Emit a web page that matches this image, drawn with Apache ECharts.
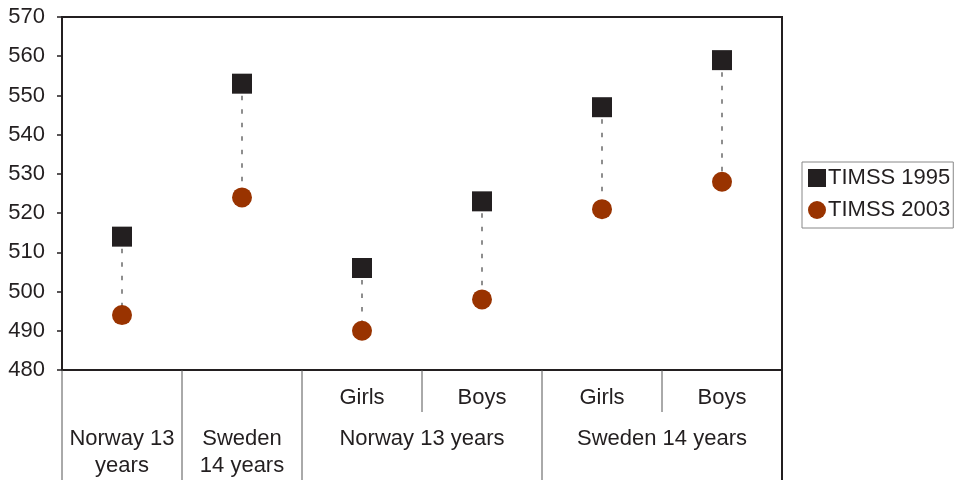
<!DOCTYPE html>
<html>
<head>
<meta charset="utf-8">
<script src="https://cdn.jsdelivr.net/npm/echarts@6/dist/echarts.min.js"></script>
<style>
  html, body { margin: 0; padding: 0; background: #fff; }
  #chart { width: 967px; height: 480px; }
</style>
</head>
<body>
<div id="chart"></div>
<script>
// Mean scores, TIMSS 1995 vs 2003
const subLabels = ['', '', 'Girls', 'Boys', 'Girls', 'Boys'];
const groupLabels = ['Norway 13\nyears', 'Sweden\n14 years', 'Norway 13 years', 'Sweden 14 years'];
// each group spans [first category, last category]
const groupSpans = [[0, 0], [1, 1], [2, 3], [4, 5]];
const timss1995 = [514, 553, 506, 523, 547, 559];
const timss2003 = [494, 524, 490, 498, 521, 528];
const seriesNames = ['TIMSS 1995', 'TIMSS 2003'];

const ink = '#231f20';
const rust = '#993300';
const FONT = '"Liberation Sans", Arial, sans-serif';
const FS = 22;

const chart = echarts.init(document.getElementById('chart'), null, { renderer: 'canvas' });

chart.setOption({
  animation: false,
  backgroundColor: '#fff',
  textStyle: { fontFamily: FONT },
  grid: {
    left: 62, right: 185, top: 17, bottom: 110,
    show: true, borderColor: ink, borderWidth: 2, backgroundColor: 'transparent'
  },
  legend: {
    orient: 'vertical',
    left: 802, top: 162,
    padding: [5, 3, 7, 6],
    itemGap: 10,
    itemWidth: 18, itemHeight: 18,
    borderColor: '#888', borderWidth: 1,
    textStyle: { fontSize: FS, color: ink, fontFamily: FONT, padding: [0, 0, 0, -3] },
    data: [
      { name: seriesNames[0], icon: 'rect' },
      { name: seriesNames[1], icon: 'circle' }
    ]
  },
  xAxis: {
    type: 'category',
    data: subLabels,
    boundaryGap: true,
    axisLine: { show: true, lineStyle: { color: ink, width: 2 } },
    axisTick: { show: false },
    axisLabel: { fontSize: FS, color: ink, margin: 17, fontFamily: FONT, interval: 0 },
    splitLine: { show: false }
  },
  yAxis: {
    type: 'value',
    min: 480, max: 570, interval: 10,
    axisLine: { show: true, lineStyle: { color: ink, width: 2 } },
    axisTick: { show: true, length: 5, lineStyle: { color: ink, width: 1.5 } },
    axisLabel: { fontSize: FS, color: ink, margin: 17, fontFamily: FONT },
    splitLine: { show: false }
  },
  series: [
    {
      // dashed connector between the two survey years
      type: 'custom',
      name: 'connector',
      z: 1,
      silent: true,
      data: timss1995.map((v, i) => [i, v, timss2003[i]]),
      encode: { x: 0, y: [1, 2] },
      renderItem: function (params, api) {
        const a = api.coord([api.value(0), api.value(1)]);
        const b = api.coord([api.value(0), api.value(2)]);
        return {
          type: 'line',
          shape: { x1: a[0], y1: a[1] + 12, x2: b[0], y2: b[1] },
          style: { stroke: '#444', lineWidth: 1.2, lineDash: [4.5, 9] }
        };
      }
    },
    {
      type: 'scatter',
      name: seriesNames[0],
      z: 3,
      symbol: 'rect',
      symbolSize: 20,
      itemStyle: { color: ink, opacity: 1 },
      data: timss1995
    },
    {
      type: 'scatter',
      name: seriesNames[1],
      z: 3,
      symbol: 'circle',
      symbolSize: 20,
      itemStyle: { color: rust, opacity: 1 },
      data: timss2003
    }
  ]
});

// Category table below the plot: cell dividers and group labels
function drawTable() {
  const centers = subLabels.map((_, i) => chart.convertToPixel({ xAxisIndex: 0 }, i));
  const band = centers[1] - centers[0];
  const edge = i => centers[0] - band / 2 + i * band;
  const yTop = chart.convertToPixel({ yAxisIndex: 0 }, 480);
  const yBottom = 480;
  const ySub = yTop + 42;
  const els = [];

  // full-height dividers at group borders, short ones between sub-labels
  const groupEdges = new Set([0]);
  groupSpans.forEach(s => groupEdges.add(s[1] + 1));
  for (let i = 0; i <= subLabels.length; i++) {
    const full = groupEdges.has(i);
    const last = i === subLabels.length;
    els.push({
      type: 'line',
      shape: { x1: edge(i), y1: yTop, x2: edge(i), y2: full ? yBottom : ySub },
      style: { stroke: last ? ink : '#555', lineWidth: last ? 2 : 1 },
      z: 10
    });
  }

  groupSpans.forEach((s, g) => {
    const cx = (edge(s[0]) + edge(s[1] + 1)) / 2;
    els.push({
      type: 'text',
      x: cx, y: yTop + 55,
      style: {
        text: groupLabels[g],
        fill: ink,
        font: FS + 'px ' + FONT,
        align: 'center',
        verticalAlign: 'top',
        lineHeight: 27
      },
      z: 10
    });
  });

  chart.setOption({ graphic: els });
}
drawTable();
</script>
</body>
</html>
